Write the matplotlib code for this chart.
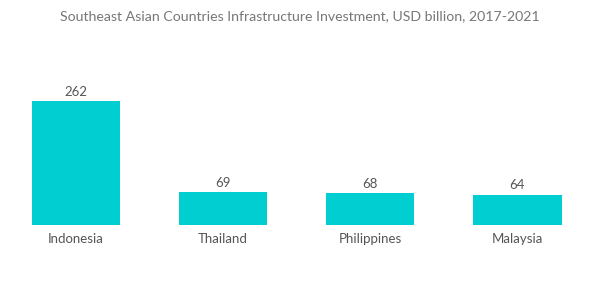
import matplotlib
matplotlib.use("Agg")
import matplotlib.pyplot as plt

plt.rcParams['font.family'] = ['Lato', 'DejaVu Sans']

countries = ["Indonesia", "Thailand", "Philippines", "Malaysia"]
investment = [262, 69, 68, 64]

BAR = "#00CED1"
TEXT = "#555555"

fig = plt.figure(figsize=(6, 3.02), dpi=100)
ax = fig.add_axes([0.004, 0.255, 0.981, 0.546])

x = range(len(countries))
bars = ax.bar(x, investment, width=0.6, color=BAR)

for b, v in zip(bars, investment):
    ax.text(b.get_x() + b.get_width() / 2, v + 7, str(v),
            ha='center', va='bottom', fontsize=9.5, color=TEXT)

ax.set_xlim(-0.5, 3.5)
ax.set_ylim(0, 349)
ax.set_xticks(list(x))
ax.set_xticklabels(countries, fontsize=9.5, color=TEXT)
ax.tick_params(axis='x', length=0, pad=6)
ax.set_yticks([])
for s in ax.spines.values():
    s.set_visible(False)

fig.text(0.5, 0.945, "Southeast Asian Countries Infrastructure Investment, USD billion, 2017-2021",
         ha='center', va='center', fontsize=10.2, color="#777777")

fig.savefig("out.png", dpi=100)
